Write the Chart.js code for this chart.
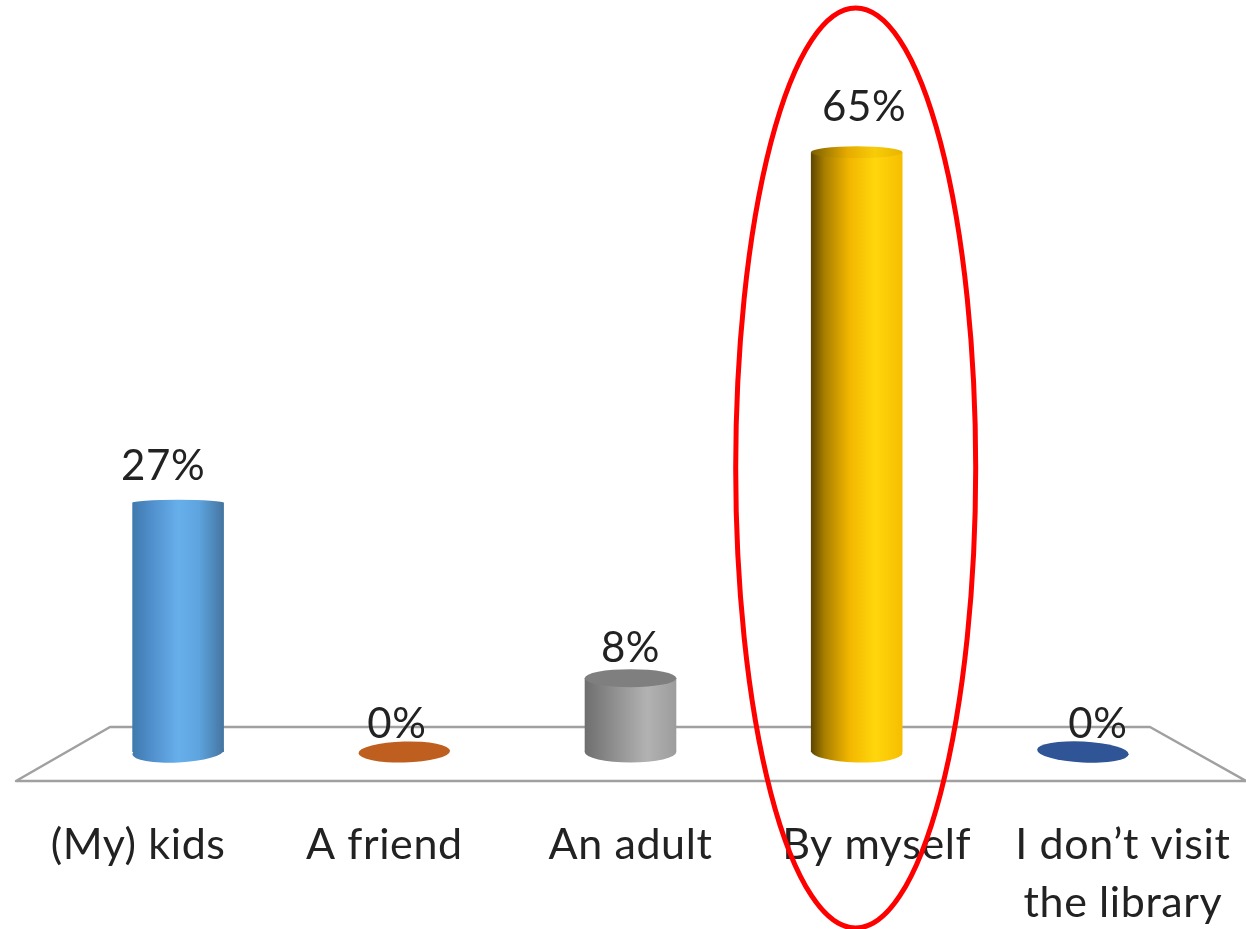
<!DOCTYPE html>
<html>
<head>
<meta charset="utf-8">
<title>Who do you visit the library with</title>
<style>
  html, body { margin: 0; padding: 0; background: #fff; overflow: hidden; }
  canvas { display: block; }
</style>
<script src="https://cdn.jsdelivr.net/npm/chart.js@4/dist/chart.umd.min.js"></script>
</head>
<body>
<canvas id="chart" width="1246" height="929"></canvas>
<script>
const categories = ['(My) kids', 'A friend', 'An adult', 'By myself', ['I don\u2019t visit', 'the library']];
const percents = [27, 0, 8, 65, 0];
const highlightedIndex = 3;

/* cylinder look, one gradient per bar */
const barStops = [
  [[0, '#3f79ad'], [0.2, '#4f8ecb'], [0.5, '#67afeb'], [0.72, '#5ea5e0'], [1, '#44749f']],
  [[0, '#bf5f1f'], [1, '#bf5f1f']],
  [[0, '#6e6e6e'], [0.3, '#8d8d8d'], [0.68, '#b2b2b2'], [1, '#9c9c9c']],
  [[0, '#5a4500'], [0.15, '#a87e00'], [0.42, '#f2b600'], [0.7, '#ffd60c'], [1, '#f6be00']],
  [[0, '#2f5597'], [1, '#2f5597']]
];
const capStops = [
  barStops[0],
  barStops[1],
  [[0, '#7f7f7f'], [1, '#7f7f7f']],
  [[0, '#7a5e00'], [0.4, '#e6ab00'], [0.7, '#f8cc08'], [1, '#e8b400']],
  barStops[4]
];
const capHeights = [3, 0, 9, 6, 0];
const labelLift = [36, 28, 30, 45, 28];
const textFont = 'Lato, "Open Sans", sans-serif';

function fillFor(c, x, stops) {
  const g = c.createLinearGradient(x - 46, 0, x + 46, 0);
  stops.forEach(s => g.addColorStop(s[0], s[1]));
  return g;
}

function barGradient(ctx) {
  const chart = ctx.chart;
  if (!chart.chartArea || ctx.dataIndex === undefined) return '#888';
  return fillFor(chart.ctx, chart.scales.x.getPixelForValue(ctx.dataIndex), barStops[ctx.dataIndex]);
}

function tiltOf(chart, x) {
  const mid = (chart.chartArea.left + chart.chartArea.right) / 2;
  return (x - mid) / 9000;
}

const cylinderPlugin = {
  id: 'cylinder',
  beforeDraw(chart) {
    // the reference font runs a bit wider than Lato
    chart.ctx.letterSpacing = '0.6px';
  },
  beforeDatasetsDraw(chart) {
    const c = chart.ctx;
    const base = chart.scales.y.getPixelForValue(0);

    // floor of the 3d chart
    c.save();
    c.strokeStyle = '#a0a0a0';
    c.lineWidth = 2.5;
    c.lineJoin = 'round';
    c.beginPath();
    c.moveTo(16, base + 29);
    c.lineTo(110, base - 25);
    c.lineTo(1150, base - 25);
    c.lineTo(1246, base + 29);
    c.closePath();
    c.stroke();
    c.restore();

    // round bottoms go under the bars
    chart.getDatasetMeta(0).data.forEach((bar, i) => {
      c.save();
      c.fillStyle = fillFor(c, bar.x, barStops[i]);
      c.beginPath();
      c.ellipse(bar.x, base, bar.width / 2, 10.5, tiltOf(chart, bar.x), 0, Math.PI * 2);
      c.fill();
      c.restore();
    });
  },
  afterDatasetsDraw(chart) {
    const c = chart.ctx;
    const mid = (chart.chartArea.left + chart.chartArea.right) / 2;
    chart.getDatasetMeta(0).data.forEach((bar, i) => {
      if (capHeights[i] > 0) {
        c.save();
        c.fillStyle = fillFor(c, bar.x, capStops[i]);
        c.beginPath();
        c.ellipse(bar.x, bar.y, bar.width / 2, capHeights[i], 0, 0, Math.PI * 2);
        c.fill();
        c.restore();
      }
      // value labels, spread a little wider than the bars
      c.save();
      c.fillStyle = '#222';
      c.font = '42px ' + textFont;
      c.textAlign = 'center';
      c.textBaseline = 'middle';
      c.fillText(percents[i] + '%', mid + (bar.x - mid) * 1.033, bar.y - labelLift[i]);
      c.restore();
    });
  },
  afterDraw(chart) {
    // red ring around the highlighted bar
    const c = chart.ctx;
    const bar = chart.getDatasetMeta(0).data[highlightedIndex];
    c.save();
    c.strokeStyle = '#ff0000';
    c.lineWidth = 5;
    c.beginPath();
    c.ellipse(bar.x - 1, 468, 120, 460, 0, 0, Math.PI * 2);
    c.stroke();
    c.restore();
  }
};

new Chart(document.getElementById('chart'), {
  type: 'bar',
  data: {
    labels: categories,
    datasets: [{
      data: percents,
      backgroundColor: barGradient,
      borderWidth: 0,
      barPercentage: 0.81,
      categoryPercentage: 0.5
    }]
  },
  plugins: [cylinderPlugin],
  options: {
    responsive: false,
    animation: false,
    events: [],
    layout: { padding: { left: 15, right: 0, top: 0, bottom: 0 } },
    plugins: { legend: { display: false }, tooltip: { enabled: false } },
    scales: {
      x: { display: false },
      // labels sit wider apart than the bars, so they get their own full width axis
      labelAxis: {
        axis: 'x',
        type: 'category',
        position: 'bottom',
        fullSize: true,
        offset: true,
        labels: categories,
        grid: { display: false, drawTicks: false },
        border: { display: false },
        ticks: {
          color: '#222',
          font: { family: textFont, size: 43, lineHeight: 1.35 },
          padding: 64,
          maxRotation: 0,
          autoSkip: false
        },
        afterFit(scale) { scale.height = 177; }
      },
      y: {
        min: 0,
        max: 81.5,
        grid: { display: false },
        border: { display: false },
        ticks: { display: false },
        afterFit(scale) { scale.width = 50; }
      },
      yRight: {
        axis: 'y',
        position: 'right',
        min: 0,
        max: 81.5,
        grid: { display: false },
        border: { display: false },
        ticks: { display: false },
        afterFit(scale) { scale.width = 50; }
      }
    }
  }
});
</script>
</body>
</html>
